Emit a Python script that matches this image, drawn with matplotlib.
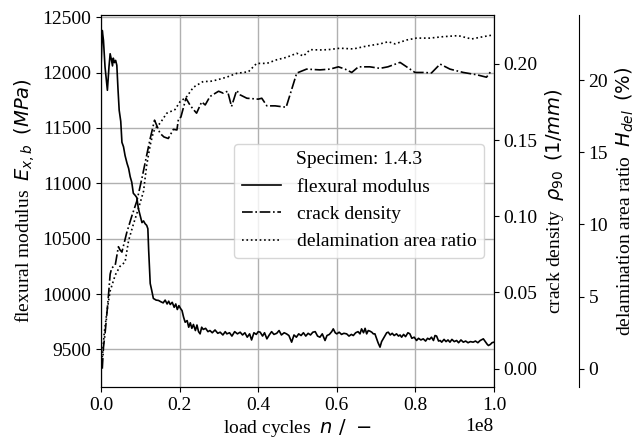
import numpy as np
import matplotlib
matplotlib.use('Agg')
import matplotlib.pyplot as plt

# load cycles in units of 1e8
n_fm = [0.000, 0.003, 0.006, 0.010, 0.016, 0.020, 0.023, 0.026, 0.029, 0.031,
        0.034, 0.037, 0.040, 0.043, 0.046, 0.050, 0.053, 0.057, 0.061, 0.066,
        0.070, 0.074, 0.078, 0.082, 0.087, 0.091, 0.095, 0.100, 0.104, 0.108,
        0.112, 0.116, 0.119, 0.121, 0.125, 0.129, 0.133, 0.140, 0.146, 0.152,
        0.158, 0.163, 0.168, 0.172, 0.176, 0.181, 0.186, 0.190, 0.194, 0.198,
        0.202, 0.206, 0.210, 0.214, 0.219, 0.223, 0.227, 0.231, 0.235, 0.240,
        0.244, 0.248, 0.252, 0.256, 0.260, 0.266, 0.272, 0.277, 0.283, 0.290,
        0.297, 0.303, 0.310, 0.316, 0.320, 0.327, 0.333, 0.340, 0.347, 0.354,
        0.360, 0.366, 0.372, 0.378, 0.383, 0.389, 0.395, 0.400, 0.405, 0.411,
        0.416, 0.422, 0.428, 0.434, 0.440, 0.447, 0.453, 0.459, 0.466, 0.472,
        0.478, 0.485, 0.491, 0.497, 0.503, 0.509, 0.515, 0.521, 0.527, 0.533,
        0.539, 0.545, 0.551, 0.557, 0.563, 0.570, 0.575, 0.581, 0.587, 0.591,
        0.596, 0.600, 0.606, 0.612, 0.618, 0.625, 0.631, 0.637, 0.642, 0.648,
        0.654, 0.659, 0.663, 0.668, 0.672, 0.676, 0.680, 0.684, 0.689, 0.693,
        0.697, 0.701, 0.705, 0.710, 0.714, 0.718, 0.722, 0.727, 0.731, 0.736,
        0.741, 0.746, 0.752, 0.757, 0.761, 0.765, 0.770, 0.775, 0.781, 0.786,
        0.791, 0.797, 0.803, 0.808, 0.814, 0.820, 0.826, 0.831, 0.836, 0.841,
        0.846, 0.850, 0.854, 0.859, 0.863, 0.867, 0.873, 0.878, 0.883, 0.888,
        0.893, 0.899, 0.905, 0.910, 0.916, 0.922, 0.928, 0.934, 0.940, 0.947,
        0.953, 0.959, 0.965, 0.970, 0.973, 0.978, 0.983, 0.986, 0.991, 0.995,
        1.000]
E_fm = [12066, 12380, 12290, 12050, 11840, 12050, 12170, 12120, 12060, 12130,
        12090, 12110, 12066, 11850, 11660, 11560, 11370, 11330, 11250, 11180,
        11135, 11060, 11010, 10910, 10890, 10870, 10770, 10700, 10645, 10660,
        10635, 10620, 10590, 10400, 10095, 10030, 9960, 9945, 9942, 9930,
        9920, 9945, 9910, 9935, 9905, 9925, 9880, 9910, 9860, 9895,
        9870, 9850, 9790, 9745, 9760, 9700, 9740, 9690, 9725, 9670,
        9720, 9660, 9640, 9700, 9680, 9690, 9660, 9670, 9650, 9675,
        9645, 9655, 9630, 9660, 9640, 9650, 9620, 9660, 9640, 9655,
        9630, 9650, 9610, 9640, 9585, 9650, 9635, 9660, 9655, 9620,
        9650, 9595, 9630, 9660, 9635, 9645, 9670, 9630, 9650, 9640,
        9625, 9565, 9630, 9610, 9640, 9625, 9650, 9620, 9645, 9630,
        9655, 9660, 9620, 9610, 9640, 9580, 9625, 9635, 9660, 9685,
        9650, 9640, 9655, 9635, 9645, 9640, 9620, 9635, 9625, 9650,
        9660, 9640, 9685, 9650, 9690, 9640, 9670, 9665, 9655, 9640,
        9640, 9600, 9560, 9520, 9570, 9595, 9620, 9650, 9655, 9630,
        9645, 9625, 9640, 9620, 9630, 9610, 9635, 9615, 9650, 9640,
        9600, 9610, 9580, 9600, 9585, 9595, 9575, 9600, 9590, 9610,
        9580, 9625, 9620, 9575, 9580, 9565, 9590, 9570, 9585, 9565,
        9590, 9570, 9580, 9560, 9585, 9565, 9575, 9560, 9570, 9565,
        9575, 9560, 9580, 9590, 9595, 9570, 9545, 9535, 9545, 9560,
        9565]

n_cd = [0.003, 0.006, 0.010, 0.014, 0.019, 0.023, 0.027, 0.036, 0.044, 0.048,
        0.053, 0.065, 0.078, 0.091, 0.104, 0.116, 0.125, 0.136, 0.150, 0.160,
        0.171, 0.184, 0.193, 0.197, 0.203, 0.216, 0.226, 0.235, 0.243, 0.256,
        0.265, 0.277, 0.299, 0.311, 0.322, 0.332, 0.345, 0.354, 0.371, 0.400,
        0.409, 0.422, 0.443, 0.471, 0.498, 0.523, 0.557, 0.583, 0.604, 0.621,
        0.638, 0.655, 0.684, 0.710, 0.730, 0.761, 0.799, 0.820, 0.841, 0.863,
        0.888, 0.922, 0.956, 0.981, 0.994]
rho_cd = [0.000, 0.014, 0.023, 0.034, 0.049, 0.062, 0.066, 0.068, 0.080, 0.078,
          0.0765, 0.089, 0.100, 0.110, 0.125, 0.140, 0.151, 0.163, 0.1544, 0.152,
          0.151, 0.157, 0.1566, 0.164, 0.165, 0.1774, 0.173, 0.170, 0.1676, 0.175,
          0.173, 0.1785, 0.182, 0.1807, 0.182, 0.172, 0.1825, 0.1796, 0.1774, 0.1768,
          0.1774, 0.1724, 0.1724, 0.1715, 0.1939, 0.1965, 0.196, 0.1965, 0.198, 0.1965,
          0.1943, 0.198, 0.198, 0.197, 0.198, 0.2009, 0.1943, 0.1943, 0.194, 0.1998,
          0.1965, 0.1943, 0.1928, 0.1912, 0.1956]

n_del = [0.002, 0.008, 0.015, 0.023, 0.036, 0.048, 0.061, 0.070, 0.082, 0.095,
         0.108, 0.116, 0.125, 0.133, 0.142, 0.150, 0.167, 0.188, 0.201, 0.218,
         0.235, 0.260, 0.277, 0.294, 0.320, 0.345, 0.375, 0.396, 0.422, 0.447,
         0.472, 0.498, 0.515, 0.532, 0.557, 0.578, 0.608, 0.642, 0.676, 0.710,
         0.731, 0.748, 0.778, 0.803, 0.837, 0.871, 0.909, 0.943, 0.973, 0.994]
H_del = [0.5, 2.5, 4.0, 5.4, 6.5, 7.1, 7.4, 8.9, 10.0, 11.1,
         12.3, 14.1, 15.5, 16.4, 16.8, 17.0, 17.7, 17.95, 18.5, 18.85,
         19.5, 19.9, 19.9, 20.0, 20.2, 20.46, 20.57, 21.15, 21.15, 21.4,
         21.57, 21.85, 21.66, 22.1, 22.08, 22.1, 22.2, 22.15, 22.35, 22.5,
         22.65, 22.5, 22.77, 22.9, 22.9, 23.0, 23.07, 22.84, 23.0, 23.1]

plt.rcParams['font.family'] = 'serif'
plt.rcParams['font.serif'] = ['Liberation Serif']
plt.rcParams['font.size'] = 14


def main():
    fig = plt.figure(figsize=(6.44, 4.37), dpi=100)
    ax = fig.add_axes([0.157, 0.1144, 0.61, 0.8513])
    par1 = ax.twinx()
    par2 = ax.twinx()
    par2.spines['right'].set_position(('axes', 1.216))
    for s in ['top', 'bottom', 'left']:
        par2.spines[s].set_visible(False)

    p1, = ax.plot(np.array(n_fm) * 1e8, E_fm, '-', color='k', lw=1.2,
                  label='flexural modulus')
    p2, = par1.plot(np.array(n_cd) * 1e8, rho_cd, '-.', color='k', lw=1.2,
                    label='crack density')
    p3, = par2.plot(np.array(n_del) * 1e8, H_del, ':', color='k', lw=1.2,
                    label='delamination area ratio')

    ax.set_xlim(0, 1e8)
    ax.set_ylim(9160, 12520)
    par1.set_ylim(-0.012, 0.232)
    par2.set_ylim(-1.25, 24.5)
    par2.set_yticks([0, 5, 10, 15, 20])

    ax.grid(True, color='#b0b0b0', lw=1.0)
    ax.set_xlabel(r'load cycles  $n\ /\ -$', labelpad=2)
    ax.set_ylabel(r'flexural modulus  $E_{x,b}$  $(MPa)$')
    par1.set_ylabel(r'crack density  $\rho_{90}$  $(1/mm)$')
    par2.set_ylabel(r'delamination area ratio  $H_{del}$  $(\%)$')

    par2.legend(handles=[p1, p2, p3], title='Specimen: 1.4.3',
                loc='center right')

    fig.savefig('out.png', dpi=100)


if __name__ == '__main__':
    main()
